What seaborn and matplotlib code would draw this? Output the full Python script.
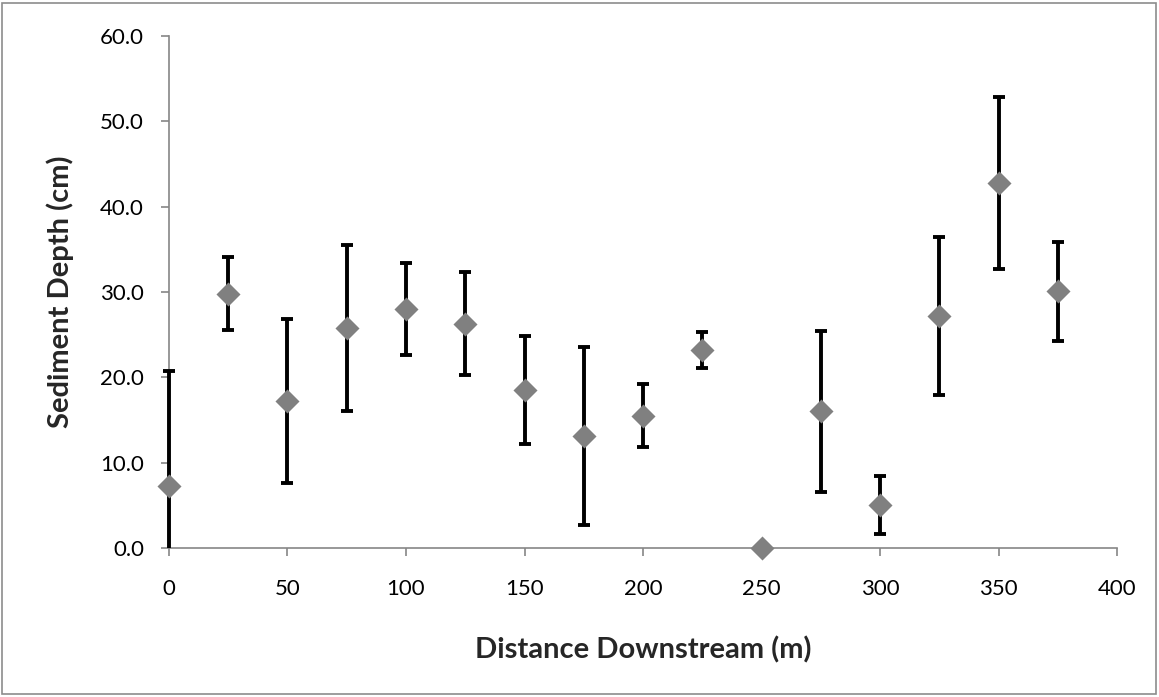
import matplotlib
matplotlib.use("Agg")
import matplotlib.pyplot as plt
import seaborn as sns
import pandas as pd
from matplotlib.patches import Rectangle
from matplotlib.ticker import FormatStrFormatter

distance = [0, 25, 50, 75, 100, 125, 150, 175, 200, 225, 250, 275, 300, 325, 350, 375]
depth = [7.3, 29.8, 17.2, 25.8, 28.0, 26.3, 18.5, 13.1, 15.5, 23.2, 0.0, 16.0, 5.0, 27.2, 42.8, 30.1]
err = [13.4, 4.3, 9.6, 9.7, 5.4, 6.0, 6.3, 10.4, 3.7, 2.1, 0.0, 9.4, 3.4, 9.3, 10.1, 5.8]
xticks = [0, 50, 100, 150, 200, 250, 300, 350, 400]
yticks = [0, 10, 20, 30, 40, 50, 60]

df = pd.DataFrame({"distance": distance, "depth": depth, "err": err})

sns.set_theme(style="white")
plt.rcParams['font.family'] = ['Lato', 'DejaVu Sans']

fig = plt.figure(figsize=(11.59, 6.97), dpi=100)
ax = fig.add_axes([0.1458, 0.2138, 0.818, 0.7346])

axis_gray = "#868686"

eb = ax.errorbar(df["distance"], df["depth"], yerr=df["err"], fmt="none",
                 ecolor="black", elinewidth=2.8, capsize=4.3, capthick=2.8, zorder=3)
# clip error bars only at the bottom of the plot area (like Excel), not at x=0
clip_rect = Rectangle((-0.05, 0.0), 1.1, 1.1, transform=ax.transAxes,
                      facecolor="none", edgecolor="none")
ax.add_patch(clip_rect)
for art in list(eb.lines[1]) + list(eb.lines[2]):
    art.set_clip_path(clip_rect)

sns.scatterplot(data=df, x="distance", y="depth", marker="D", s=150,
                color="#808080", edgecolor="#808080", linewidth=0, ax=ax,
                zorder=4, clip_on=False)

ax.set_xlim(0, 400)
ax.set_ylim(0, 60)
ax.set_xticks(xticks)
ax.set_yticks(yticks)
ax.yaxis.set_major_formatter(FormatStrFormatter("%.1f"))

for s in ["top", "right"]:
    ax.spines[s].set_visible(False)
for s in ["left", "bottom"]:
    ax.spines[s].set_color(axis_gray)
    ax.spines[s].set_linewidth(1.2)
    ax.spines[s].set_zorder(2)

ax.tick_params(axis="both", which="major", direction="out", length=6,
               width=1.2, color=axis_gray, labelsize=16, labelcolor="black",
               bottom=True, left=True)
ax.tick_params(axis="x", pad=16)
ax.tick_params(axis="y", pad=12)

ax.set_xlabel("Distance Downstream (m)", fontsize=21, fontweight="bold")
ax.set_ylabel("Sediment Depth (cm)", fontsize=21, fontweight="bold")
ax.xaxis.set_label_coords(0.5, -0.199)
ax.xaxis.label.set_va("center")
ax.yaxis.set_label_coords(-0.115, 0.5)
ax.yaxis.label.set_va("center")

fig.patches.append(Rectangle((0.002, 0.004), 0.995, 0.992, transform=fig.transFigure,
                             fill=False, edgecolor="#8c8c8c", linewidth=1.2))

fig.savefig("out.png", dpi=100)
